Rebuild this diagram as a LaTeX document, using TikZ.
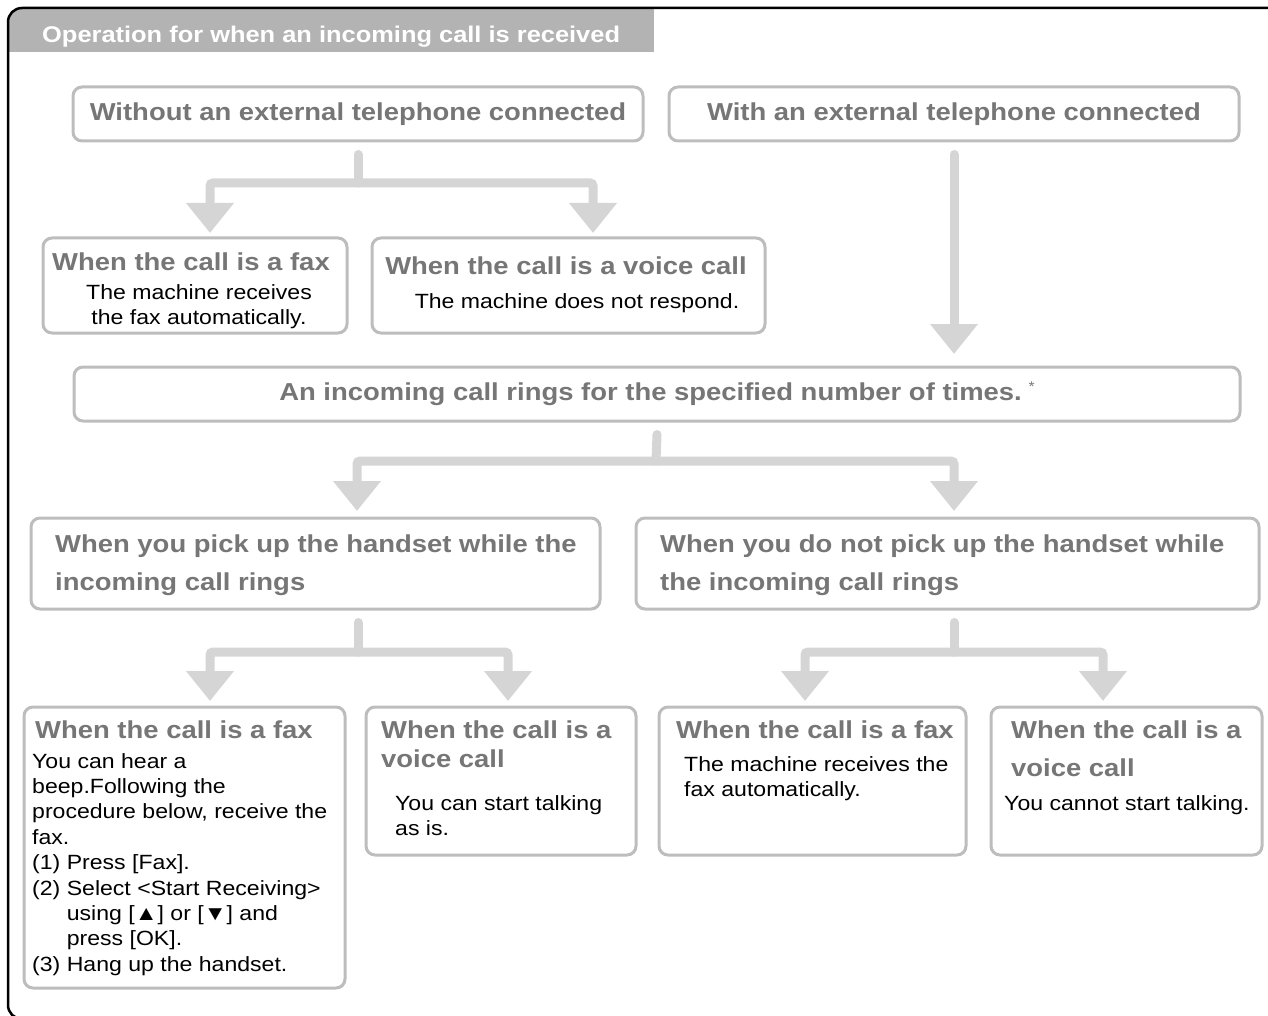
\documentclass[tikz,border=0pt]{standalone}
\usepackage{fontspec}
\setmainfont{Liberation Sans}[FakeStretch=1.12]
\usepackage{tikz}
\usetikzlibrary{arrows.meta, positioning, calc}

\definecolor{boxline}{HTML}{BDBDBD}
\definecolor{titlegray}{HTML}{767676}
\definecolor{flowgray}{HTML}{D5D5D5}
\definecolor{headgray}{HTML}{B3B3B3}

\begin{document}
\begin{tikzpicture}[x=1pt, y=-1pt,
    box/.style={draw=boxline, line width=3pt, rounded corners=9pt, fill=white},
    heading/.style={font=\bfseries\fontsize{24.5}{38}\selectfont, text=titlegray, inner sep=0pt},
    body/.style={font=\fontsize{20.6}{25.4}\selectfont, inner sep=0pt},
    stem/.style={draw=flowgray, line width=9pt, line cap=round},
    flow/.style={stem, rounded corners=3pt, -{Triangle[width=46pt, length=30pt]}}
]
\useasboundingbox (0,0) rectangle (1268,1016);
\clip (0,0) rectangle (1268,1016);

\begin{scope}
\clip[rounded corners=14pt] (8,8) rectangle (1300,1030);
\fill[headgray] (8,8) rectangle (654,52);
\end{scope}
\draw[line width=2.5pt, rounded corners=14pt] (8,8) rectangle (1300,1019);
\node[anchor=base west, inner sep=0pt, text=white, font=\bfseries\fontsize{22.7}{27}\selectfont] (hdr) at (42,43) {Operation for when an incoming call is received};

\node[box, heading, minimum width=570pt, minimum height=54pt] (nophone) at (358,114) {Without an external telephone connected};
\node[box, heading, minimum width=570pt, minimum height=54pt] (phone) at (954,114) {With an external telephone connected};

\node[box, minimum width=304pt, minimum height=95pt] (fax1) at (195,285.5) {};
\node[heading, anchor=base] (fax1h) at (191,270) {When the call is a fax};
\node[body, anchor=north, align=center] (fax1b) at (199,284) {The machine receives\\the fax automatically.};

\node[box, minimum width=393pt, minimum height=95pt] (voice1) at (568.5,285.5) {};
\node[heading, anchor=base] (voice1h) at (566,275) {When the call is a voice call};
\node[body, anchor=base] (voice1b) at (577,308) {The machine does not respond.};

\node[box, heading, minimum width=1166pt, minimum height=54pt] (ring) at (657,394) {An incoming call rings for the specified number of times.\;{\mdseries\fontsize{14}{14}\selectfont\raisebox{9pt}{*}}};

\node[box, minimum width=569pt, minimum height=91pt] (pick) at (315.5,563.5) {};
\node[heading, anchor=north west, align=left] (pickh) at (55,535) {When you pick up the handset while the\\incoming call rings};

\node[box, minimum width=623pt, minimum height=91pt] (nopick) at (947.5,563.5) {};
\node[heading, anchor=north west, align=left] (nopickh) at (660,535) {When you do not pick up the handset while\\the incoming call rings};

\node[box, minimum width=321pt, minimum height=281pt] (fax2) at (184.5,847.5) {};
\node[heading, anchor=base west] (fax2h) at (35,738) {When the call is a fax};
\node[body, anchor=north west, align=left] (fax2b) at (32,753) {You can hear a\\beep.Following the\\procedure below, receive the\\fax.\\(1) Press [Fax].\\(2) Select <Start Receiving>\\\phantom{(2) }using [▲] or [▼] and\\\phantom{(2) }press [OK].\\(3) Hang up the handset.};

\node[box, minimum width=270pt, minimum height=148pt] (voice2) at (501,781) {};
\node[heading, anchor=north west, align=left, font=\bfseries\fontsize{24.5}{29}\selectfont] (voice2h) at (381,721) {When the call is a\\voice call};
\node[body, anchor=north west, align=left] (voice2b) at (395,795) {You can start talking\\as is.};

\node[box, minimum width=307pt, minimum height=148pt] (fax3) at (812.5,781) {};
\node[heading, anchor=base west] (fax3h) at (676,738) {When the call is a fax};
\node[body, anchor=north west, align=left] (fax3b) at (684,756) {The machine receives the\\fax automatically.};

\node[box, minimum width=271pt, minimum height=148pt] (voice3) at (1126.5,781) {};
\node[heading, anchor=north west, align=left] (voice3h) at (1011,721) {When the call is a\\voice call};
\node[body, anchor=base west] (voice3b) at (1004,810) {You cannot start talking.};

\coordinate (j1) at (358,183);
\coordinate (t1a) at (210,233);
\coordinate (t1b) at (593,233);
\coordinate (t2) at (954,354);
\coordinate (j2) at (656,461);
\coordinate (t3a) at (357,511);
\coordinate (t3b) at (954,511);
\coordinate (j3) at (358,652);
\coordinate (t4a) at (210,701);
\coordinate (t4b) at (508,701);
\coordinate (j4) at (954,652);
\coordinate (t5a) at (805,701);
\coordinate (t5b) at (1103,701);

\draw[stem] ([yshift=-12pt]nophone.south) -- (j1);
\draw[flow] (j1) -| (t1a);
\draw[flow] (j1) -| (t1b);
\draw[flow] ([yshift=-12pt]phone.south) -- (t2);

\draw[stem] ([yshift=-12pt]ring.south) -- (j2);
\draw[flow] (j2) -| (t3a);
\draw[flow] (j2) -| (t3b);

\draw[stem] ($(j3 |- pick.south)+(0,12)$) -- (j3);
\draw[flow] (j3) -| (t4a);
\draw[flow] (j3) -| (t4b);

\draw[stem] ($(j4 |- nopick.south)+(0,12)$) -- (j4);
\draw[flow] (j4) -| (t5a);
\draw[flow] (j4) -| (t5b);
\end{tikzpicture}
\end{document}
